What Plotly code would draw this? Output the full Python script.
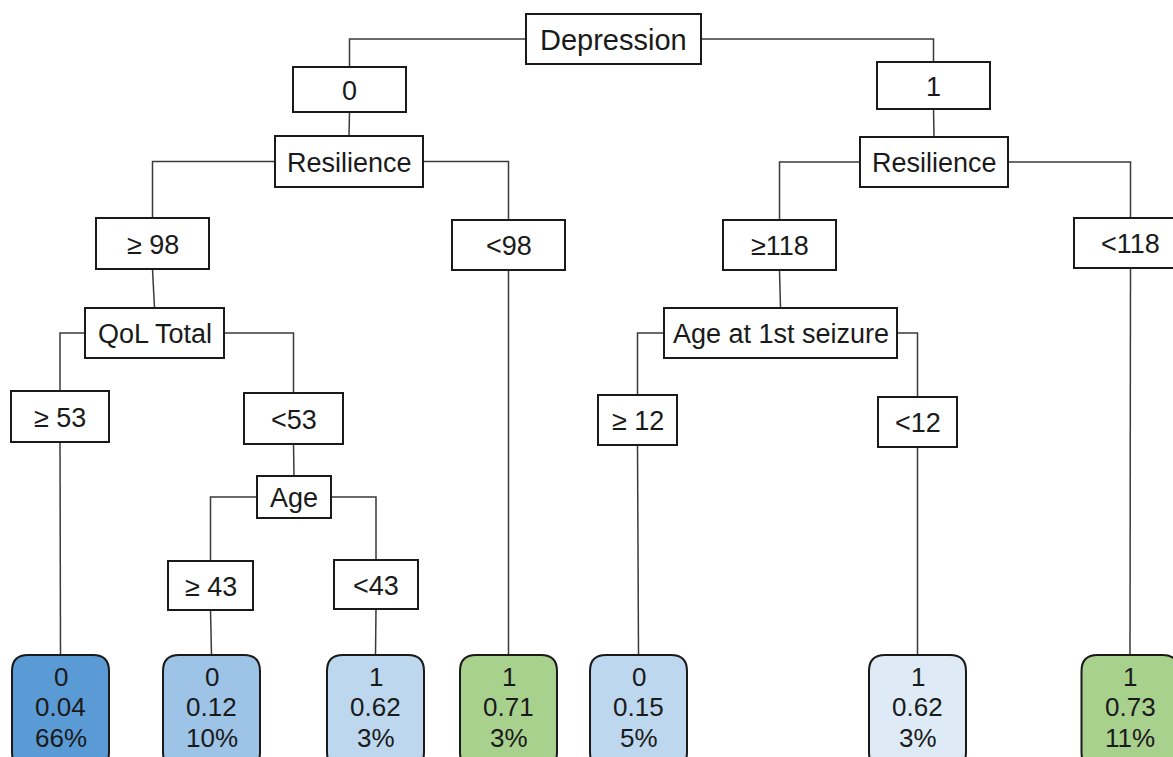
import plotly.graph_objects as go

# ---- data ----
node_labels = ["Depression", "0", "1", "Resilience", "Resilience",
               "≥ 98", "<98", "≥118", "<118",
               "QoL Total", "Age at 1st seizure",
               "≥ 53", "<53", "≥ 12", "<12",
               "Age", "≥ 43", "<43"]
leaf_class = ["0", "0", "1", "1", "0", "1", "1"]
leaf_prob = ["0.04", "0.12", "0.62", "0.71", "0.15", "0.62", "0.73"]
leaf_pct = ["66%", "10%", "3%", "3%", "5%", "3%", "11%"]
leaf_colors = ["#5B9BD5", "#9DC3E6", "#BDD7EE", "#A9D18E", "#BDD7EE", "#DEEBF7", "#A9D18E"]

# ---- layout (pixel positions: cx, cy, w, h) ----
node_pos = [
    (613.5, 39, 175, 50),    # Depression
    (349.5, 89.5, 113, 45),  # 0
    (933.5, 85.5, 113, 47),  # 1
    (349, 161.5, 148, 51),   # Resilience L
    (934, 162, 148, 50),     # Resilience R
    (152.5, 243.5, 113, 51), # >=98
    (508.5, 245, 113, 50),   # <98
    (779.5, 245, 113, 50),   # >=118
    (1130.5, 243, 113, 50),  # <118
    (154.5, 333, 139, 50),   # QoL Total
    (780.5, 333, 233, 50),   # Age at 1st seizure
    (60, 416.5, 98, 51),     # >=53
    (293.5, 418.5, 99, 51),  # <53
    (637.5, 420, 79, 50),    # >=12
    (917.5, 422, 79, 50),    # <12
    (294, 497, 74, 42),      # Age
    (210.5, 585.5, 85, 49),  # >=43
    (376, 584.5, 84, 49),    # <43
]
node_font = [29] + [27] * 17
leaf_cx = [60.5, 211.5, 375.5, 508.5, 638.5, 917.5, 1130]
leaf_top, leaf_bottom, leaf_w = 655, 768, 97
leaf_row_y = [677, 707, 738]

split_edges = [(0, 1), (0, 2), (3, 5), (3, 6), (4, 7), (4, 8), (9, 11), (9, 12),
               (10, 13), (10, 14), (15, 16), (15, 17)]
straight_edges = [(1, 3), (2, 4), (5, 9), (7, 10), (12, 15),
                  (6, 103), (8, 106), (11, 100), (13, 104), (14, 105), (16, 101), (17, 102)]

W, H = 1173, 757
FONT = "Liberation Sans, Arial, sans-serif"
shapes = []
annotations = []
LINE = dict(color="#3a3a3a", width=1.5)

def top_of(i):
    if i >= 100:
        return leaf_cx[i - 100], leaf_top
    cx, cy, w, h = node_pos[i]
    return cx, cy - h / 2

for p, c in split_edges:
    pcx, pcy, pw, ph = node_pos[p]
    ccx, ctop = top_of(c)
    sx = pcx - pw / 2 if ccx < pcx else pcx + pw / 2
    shapes.append(dict(type="path", path=f"M {sx},{pcy} L {ccx},{pcy} L {ccx},{ctop}",
                       xref="x", yref="y", line=LINE, layer="below"))

for p, c in straight_edges:
    pcx, pcy, pw, ph = node_pos[p]
    ccx, ctop = top_of(c)
    shapes.append(dict(type="line", x0=pcx, y0=pcy + ph / 2, x1=ccx, y1=ctop,
                       xref="x", yref="y", line=LINE, layer="below"))

for lab, (cx, cy, w, h), fs in zip(node_labels, node_pos, node_font):
    shapes.append(dict(type="rect", x0=cx - w / 2, x1=cx + w / 2, y0=cy - h / 2, y1=cy + h / 2,
                       xref="x", yref="y", line=dict(color="#1a1a1a", width=2),
                       fillcolor="white"))
    annotations.append(dict(x=cx, y=cy + 1, text=lab, showarrow=False, xref="x", yref="y",
                            font=dict(family=FONT, size=fs, color="#1a1a1a")))

r = 16
for i, cx in enumerate(leaf_cx):
    x0, x1 = cx - leaf_w / 2, cx + leaf_w / 2
    y0, y1 = leaf_top, leaf_bottom
    path = (f"M {x0 + r},{y0} L {x1 - r},{y0} Q {x1},{y0} {x1},{y0 + r} "
            f"L {x1},{y1 - r} Q {x1},{y1} {x1 - r},{y1} L {x0 + r},{y1} "
            f"Q {x0},{y1} {x0},{y1 - r} L {x0},{y0 + r} Q {x0},{y0} {x0 + r},{y0} Z")
    shapes.append(dict(type="path", path=path, xref="x", yref="y",
                       line=dict(color="#1a1a1a", width=2), fillcolor=leaf_colors[i]))
    for txt, yy in zip([leaf_class[i], leaf_prob[i], leaf_pct[i]], leaf_row_y):
        annotations.append(dict(x=cx, y=yy, text=txt, showarrow=False, xref="x", yref="y",
                                font=dict(family=FONT, size=26, color="#1a1a1a")))

fig = go.Figure()
fig.add_trace(go.Scatter(x=[0, W], y=[0, H], mode="markers", marker=dict(opacity=0),
                         hoverinfo="skip", showlegend=False))
fig.update_layout(
    width=W, height=H, margin=dict(l=0, r=0, t=0, b=0),
    paper_bgcolor="white", plot_bgcolor="white",
    xaxis=dict(range=[0, W], visible=False, fixedrange=True),
    yaxis=dict(range=[H, 0], visible=False, fixedrange=True),
    shapes=shapes, annotations=annotations, showlegend=False,
)
fig.write_html("out.html", config={"displayModeBar": False},
               post_script="document.body.style.margin='0';document.body.style.overflow='hidden';")
